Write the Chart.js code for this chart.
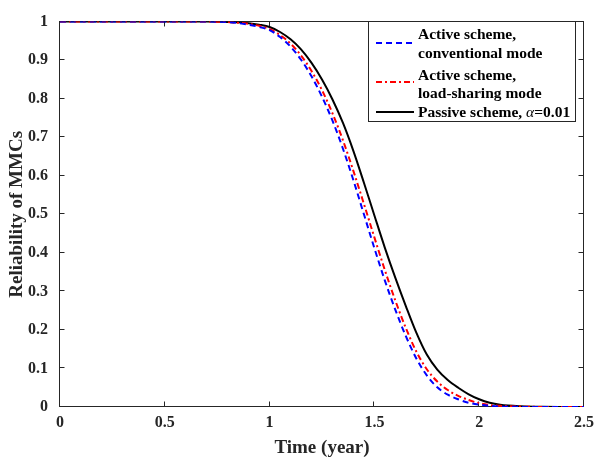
<!DOCTYPE html>
<html>
<head>
<meta charset="utf-8">
<script src="https://cdn.jsdelivr.net/npm/chart.js@4.4.1/dist/chart.umd.min.js"></script>
<style>
  html, body { margin: 0; padding: 0; background: #fff; }
  canvas { display: block; }
</style>
</head>
<body>
<canvas id="reliabilityChart" width="600" height="459"></canvas>
<script>
// time axis (years) and reliability
const timeYears = [0, 0.2, 0.4, 0.6, 0.7, 0.8, 0.85, 0.9, 0.95, 1.0, 1.05, 1.1, 1.15, 1.2, 1.25, 1.3, 1.35, 1.4, 1.45, 1.5,
    1.55, 1.6, 1.65, 1.7, 1.75, 1.8, 1.85, 1.9, 1.95, 2.0, 2.05, 2.1, 2.2, 2.3, 2.4, 2.5];

const activeConventional = [1, 1, 1, 1, 1, 0.999, 0.996, 0.992, 0.986, 0.978, 0.960, 0.935, 0.901, 0.858, 0.805, 0.743, 0.670, 0.588, 0.500, 0.412,
    0.328, 0.252, 0.184, 0.126, 0.082, 0.051, 0.032, 0.020, 0.011, 0.006, 0.003, 0.001, 0.0003, 0, 0, 0];

const activeLoadSharing = [1, 1, 1, 1, 1, 0.999, 0.997, 0.994, 0.989, 0.981, 0.965, 0.943, 0.912, 0.872, 0.822, 0.762, 0.692, 0.612, 0.527, 0.440,
    0.355, 0.276, 0.205, 0.144, 0.098, 0.066, 0.044, 0.029, 0.018, 0.010, 0.005, 0.003, 0.001, 0.0002, 0, 0];

const passiveScheme = [1, 1, 1, 1, 1, 0.999, 0.998, 0.996, 0.992, 0.986, 0.973, 0.954, 0.928, 0.893, 0.850, 0.798, 0.737, 0.664, 0.582, 0.497,
    0.413, 0.335, 0.262, 0.193, 0.136, 0.097, 0.070, 0.050, 0.033, 0.020, 0.011, 0.006, 0.002, 0.0005, 0.0001, 0];

const xTicks = [0, 0.5, 1, 1.5, 2, 2.5];
const yTicks = [0, 0.1, 0.2, 0.3, 0.4, 0.5, 0.6, 0.7, 0.8, 0.9, 1];

const axisColor = "#262626";
const serif = "'Liberation Serif', 'Times New Roman', serif";

const toPoints = values => values.map((v, i) => ({ x: timeYears[i], y: v }));
const tickText = v => String(Math.round(v * 10) / 10);

// MATLAB style box with inward ticks on all four sides
const boxTicks = {
    id: "boxTicks",
    beforeDatasetsDraw(chart) {
        const { ctx, chartArea: a, scales } = chart;
        const left = Math.round(a.left) - 0.5;
        const right = Math.round(a.right) - 0.5;
        const top = Math.round(a.top) - 0.5;
        const bottom = Math.round(a.bottom) - 0.5;
        ctx.save();
        ctx.strokeStyle = axisColor;
        ctx.lineWidth = 1;
        ctx.beginPath();
        xTicks.forEach(v => {
            const px = Math.round(scales.x.getPixelForValue(v)) - 0.5;
            ctx.moveTo(px, bottom); ctx.lineTo(px, bottom - 5);
            ctx.moveTo(px, top); ctx.lineTo(px, top + 5);
        });
        yTicks.forEach(v => {
            const py = Math.round(scales.y.getPixelForValue(v)) - 0.5;
            ctx.moveTo(left, py); ctx.lineTo(left + 5, py);
            ctx.moveTo(right, py); ctx.lineTo(right - 5, py);
        });
        ctx.stroke();
        ctx.strokeRect(left, top, right - left, bottom - top);
        ctx.restore();
    }
};

// legend box with two-line entries
const boxLegend = {
    id: "boxLegend",
    afterDraw(chart) {
        const { ctx } = chart;
        const sets = chart.data.datasets;
        const bx = 368.5, by = 21.5, bw = 207, bh = 100;
        ctx.save();
        ctx.fillStyle = "#fff";
        ctx.fillRect(bx, by, bw, bh);
        ctx.strokeStyle = axisColor;
        ctx.lineWidth = 1;
        ctx.strokeRect(bx, by, bw, bh);

        const rows = [
            { set: sets[0], sampleY: 43, lines: [[ "Active scheme,", 39 ], [ "conventional mode", 58 ]] },
            { set: sets[1], sampleY: 82, lines: [[ "Active scheme,", 80 ], [ "load-sharing mode", 98 ]] },
            { set: sets[2], sampleY: 112, lines: [] }
        ];
        rows.forEach(r => {
            ctx.beginPath();
            ctx.strokeStyle = r.set.borderColor;
            ctx.lineWidth = r.set.borderWidth;
            ctx.setLineDash(r.set.borderDash || []);
            ctx.moveTo(376, r.sampleY);
            ctx.lineTo(414, r.sampleY);
            ctx.stroke();
        });
        ctx.setLineDash([]);

        ctx.fillStyle = "#000";
        ctx.textBaseline = "alphabetic";
        ctx.textAlign = "left";
        ctx.font = "bold 15.5px " + serif;
        rows.forEach(r => r.lines.forEach(([t, y]) => ctx.fillText(t, 418, y)));

        let tx = 418;
        const first = "Passive scheme, ";
        ctx.fillText(first, tx, 117);
        tx += ctx.measureText(first).width;
        ctx.font = "italic 15.5px " + serif;
        ctx.fillText("\u03b1", tx, 117);
        tx += ctx.measureText("\u03b1").width;
        ctx.font = "bold 15.5px " + serif;
        ctx.fillText("=0.01", tx, 117);
        ctx.restore();
    }
};

const ctx = document.getElementById("reliabilityChart").getContext("2d");
const reliabilityChart = new Chart(ctx, {
    type: "line",
    data: {
        datasets: [
            {
                label: "Active scheme, conventional mode",
                data: toPoints(activeConventional),
                borderColor: "#0000ff",
                borderWidth: 2,
                borderDash: [6, 4]
            },
            {
                label: "Active scheme, load-sharing mode",
                data: toPoints(activeLoadSharing),
                borderColor: "#ff0000",
                borderWidth: 2,
                borderDash: [6, 3, 2, 3]
            },
            {
                label: "Passive scheme, \u03b1=0.01",
                data: toPoints(passiveScheme),
                borderColor: "#000000",
                borderWidth: 2
            }
        ]
    },
    options: {
        responsive: false,
        animation: false,
        events: [],
        layout: { padding: { top: 9, right: 12, bottom: 0, left: 0 } },
        elements: {
            point: { radius: 0 },
            line: { cubicInterpolationMode: "monotone", fill: false }
        },
        plugins: {
            legend: { display: false },
            tooltip: { enabled: false }
        },
        scales: {
            x: {
                type: "linear",
                min: 0,
                max: 2.5,
                afterBuildTicks: s => { s.ticks = xTicks.map(v => ({ value: v })); },
                afterFit: s => { s.height = 52; },
                grid: { display: false, drawTicks: false },
                border: { display: false },
                ticks: {
                    color: axisColor,
                    padding: 6,
                    maxRotation: 0,
                    callback: tickText,
                    font: { family: serif, size: 16, weight: "bold" }
                },
                title: {
                    display: true,
                    text: "Time (year)",
                    color: axisColor,
                    padding: { top: 1, bottom: 0 },
                    font: { family: serif, size: 19, weight: "bold", lineHeight: 1.2 }
                }
            },
            y: {
                min: 0,
                max: 1,
                afterBuildTicks: s => { s.ticks = yTicks.map(v => ({ value: v })); },
                afterFit: s => { s.width = 60; },
                grid: { display: false, drawTicks: false },
                border: { display: false },
                ticks: {
                    color: axisColor,
                    padding: 12,
                    callback: tickText,
                    font: { family: serif, size: 16, weight: "bold" }
                },
                title: {
                    display: true,
                    text: "Reliability of MMCs",
                    color: axisColor,
                    padding: { top: 6, bottom: 0 },
                    font: { family: serif, size: 19, weight: "bold", lineHeight: 1.2 }
                }
            }
        }
    },
    plugins: [boxTicks, boxLegend]
});
</script>
</body>
</html>
